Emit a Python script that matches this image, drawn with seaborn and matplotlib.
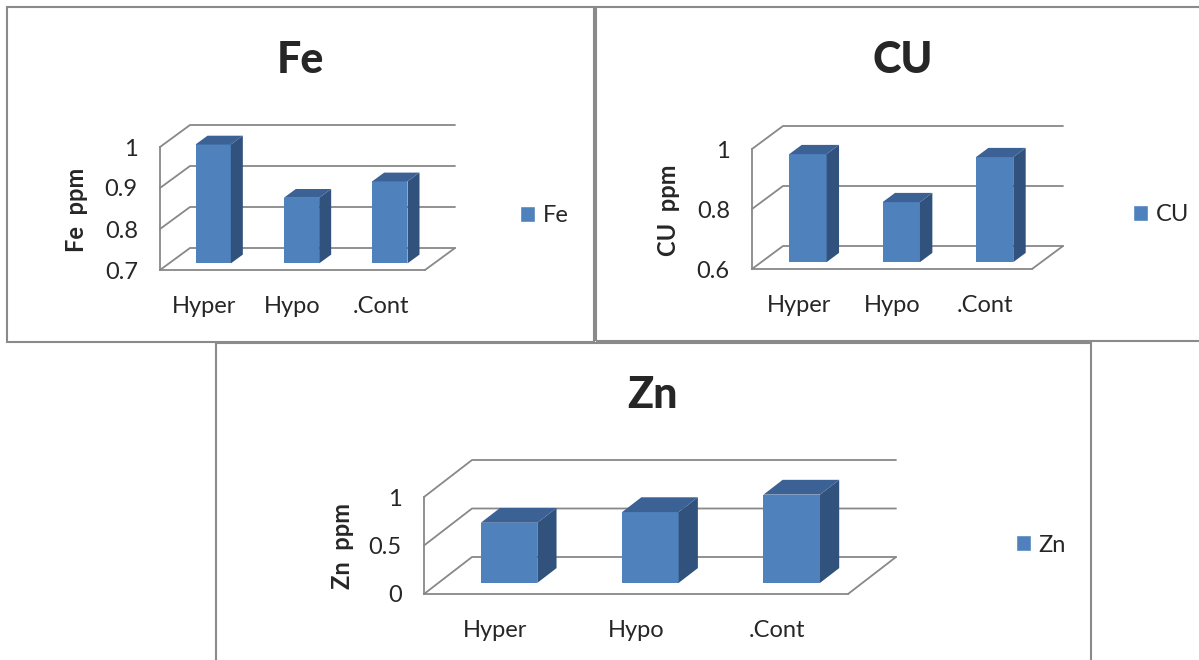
import matplotlib
matplotlib.use("Agg")
import matplotlib.pyplot as plt
from matplotlib.patches import Polygon, Rectangle, Patch
from matplotlib.transforms import IdentityTransform
import seaborn as sns

# Element concentrations (ppm) per group
categories = ["Hyper", "Hypo", ".Cont"]
fe_values = [0.99, 0.86, 0.90]
cu_values = [0.96, 0.80, 0.95]
zn_values = [0.62, 0.73, 0.91]

fe_ticks = [0.7, 0.8, 0.9, 1.0]
cu_ticks = [0.6, 0.8, 1.0]
zn_ticks = [0.0, 0.5, 1.0]
fe_tick_labels = ["0.7", "0.8", "0.9", "1"]
cu_tick_labels = ["0.6", "0.8", "1"]
zn_tick_labels = ["0", "0.5", "1"]

W, H, DPI = 1199, 660, 100
FRONT = "#4F81BD"
TOP = "#3B6195"
SIDE = "#30527D"
GRID = "#888888"
BORDER = "#8A8A8A"

sns.set_style("white")
plt.rcParams["font.family"] = ["Lato", "DejaVu Sans"]

fig = plt.figure(figsize=(W / DPI, H / DPI), dpi=DPI)
PX = IdentityTransform()


def fig_rect(left, top, right, bottom):
    """Pixel box (origin top-left) -> figure fraction rect."""
    return [left / W, 1 - bottom / H, (right - left) / W, (bottom - top) / H]


def panel(frame, depth, values, ticks, tick_labels, name, title_xy, ylabel_xy, legend_xy):
    left, top, right, bottom = frame
    dx, dy = depth
    ymin, ymax = ticks[0], ticks[-1]

    # front plane: value axis, category axis
    ax = fig.add_axes(fig_rect(left, top, right, bottom))
    ax.set_facecolor("none")
    ax.set_xlim(-0.5, 2.5)
    ax.set_ylim(ymin, ymax)
    ax.autoscale(False)
    for s in ("top", "right"):
        ax.spines[s].set_visible(False)
    for s in ("left", "bottom"):
        ax.spines[s].set_color(GRID)
        ax.spines[s].set_linewidth(1.3)
    ax.set_yticks(ticks, tick_labels)
    ax.set_xticks(range(len(categories)), categories)
    ax.set_xticks([-0.5, 0.5, 1.5, 2.5], minor=True)
    ax.tick_params(axis="y", length=5, width=1.3, color=GRID, pad=11, labelsize=17)
    ax.tick_params(axis="x", which="major", length=0, pad=19, labelsize=17)
    ax.tick_params(axis="x", which="minor", length=6, width=1.3, color=GRID)
    ax.grid(False)

    # side wall, back wall and floor drawn in pixel space
    to_px = ax.transData.transform
    for v in ticks:
        x0, y0 = to_px((-0.5, v))
        x1, _ = to_px((2.5, v))
        ax.plot([x0, x0 + dx, x1 + dx], [y0, y0 + dy, y0 + dy], color=GRID,
                lw=1.3, transform=PX, clip_on=False, zorder=1)
    xr, yb = to_px((2.5, ymin))
    ax.plot([xr, xr + dx], [yb, yb + dy], color=GRID, lw=1.3, transform=PX,
            clip_on=False, zorder=1)

    # bars sit in a plane pushed back into the box
    d0, d1 = 0.3, 0.7
    axb = fig.add_axes(fig_rect(left + d0 * dx, top - d0 * dy,
                                right + d0 * dx, bottom - d0 * dy))
    sns.barplot(x=categories, y=values, width=0.4, color=FRONT, saturation=1,
                linewidth=0, ax=axb)
    axb.set_xlim(-0.5, 2.5)
    axb.set_ylim(ymin, ymax)
    axb.axis("off")
    tb = axb.transData.transform
    ddx, ddy = (d1 - d0) * dx, (d1 - d0) * dy
    for bar in list(axb.patches):
        bx0, by0 = tb((bar.get_x(), ymin))
        bx1, by1 = tb((bar.get_x() + bar.get_width(), bar.get_height()))
        side = Polygon([(bx1, by0), (bx1 + ddx, by0 + ddy), (bx1 + ddx, by1 + ddy), (bx1, by1)],
                       closed=True, transform=PX, facecolor=SIDE, edgecolor="none")
        cap = Polygon([(bx0, by1), (bx0 + ddx, by1 + ddy), (bx1 + ddx, by1 + ddy), (bx1, by1)],
                      closed=True, transform=PX, facecolor=TOP, edgecolor="none")
        for p in (side, cap):
            p.set_clip_on(False)
            axb.add_artist(p)

    axb.legend(handles=[Patch(facecolor=FRONT)], labels=[name], loc="center left",
               bbox_to_anchor=(legend_xy[0] / W, 1 - legend_xy[1] / H),
               bbox_transform=fig.transFigure, frameon=False, fontsize=17,
               handlelength=0.65, handleheight=0.65, handletextpad=0.3,
               borderpad=0, borderaxespad=0)

    fig.text(title_xy[0] / W, 1 - title_xy[1] / H, name, ha="center", va="center",
             fontsize=31, fontweight="black")
    fig.text(ylabel_xy[0] / W, 1 - ylabel_xy[1] / H, f"{name}  ppm", ha="center",
             va="center", rotation=90, fontsize=17, fontweight="bold")


def box(left, top, right, bottom):
    fig.add_artist(Rectangle((left, H - bottom), right - left, bottom - top,
                             transform=PX, fill=False, edgecolor=BORDER, lw=1.5))


box(7, 7, 594, 342)
box(596, 7, 1205, 341)
box(216, 343, 1091, 670)

panel((160, 147, 425, 270), (30, 22), fe_values, fe_ticks, fe_tick_labels, "Fe",
      (300, 60), (77, 210), (520, 216))
panel((752, 149, 1032, 269), (31, 23), cu_values, cu_ticks, cu_tick_labels, "CU",
      (903, 60), (668, 210), (1133, 215))
panel((424, 497, 848, 594), (48, 37), zn_values, zn_ticks, zn_tick_labels, "Zn",
      (653, 395), (342, 546), (1016, 545))

fig.savefig("out.png", dpi=DPI)
